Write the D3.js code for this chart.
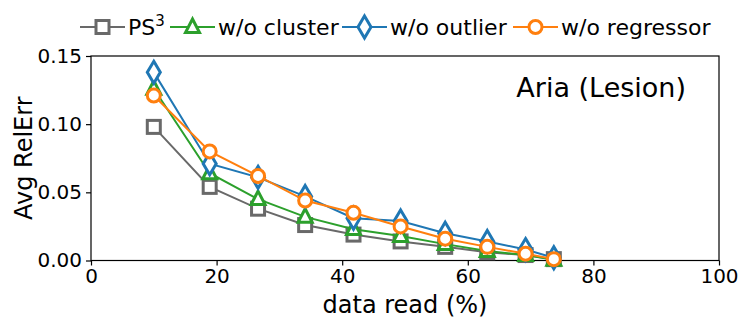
<!DOCTYPE html>
<html><head><meta charset="utf-8">
<script src="https://cdn.jsdelivr.net/npm/d3@7"></script>
<style>body{margin:0;background:#fff}svg{font-family:"DejaVu Sans",sans-serif}</style>
</head><body><svg id="c" width="747" height="327"></svg>
<script>
const xs = [10.0, 18.9, 26.6, 34.1, 41.8, 49.3, 56.4, 63.1, 69.2, 73.7];
const ps3 = [0.098, 0.054, 0.038, 0.026, 0.019, 0.014, 0.010, 0.006, 0.004, 0.001];
const woCluster = [0.126, 0.064, 0.045, 0.032, 0.023, 0.018, 0.012, 0.007, 0.004, 0.0005];
const woOutlier = [0.138, 0.071, 0.061, 0.047, 0.031, 0.029, 0.020, 0.014, 0.008, 0.002];
const woRegressor = [0.121, 0.080, 0.062, 0.044, 0.035, 0.025, 0.016, 0.010, 0.005, 0.001];
const xTicks = [0, 20, 40, 60, 80, 100];
const yTicks = [0, 0.05, 0.10, 0.15];
const seriesNames = ["PS3", "w/o cluster", "w/o outlier", "w/o regressor"];

const series = [
  {name: seriesNames[0], vals: ps3, color: "#696969", marker: "square"},
  {name: seriesNames[1], vals: woCluster, color: "#2ca02c", marker: "triangle"},
  {name: seriesNames[2], vals: woOutlier, color: "#1f77b4", marker: "diamond"},
  {name: seriesNames[3], vals: woRegressor, color: "#ff7f0e", marker: "circle"}
];

const svg = d3.select("#c");
const L = 91, R = 719, T = 56, B = 260.5;
const x = d3.scaleLinear().domain([0, 100]).range([L, R]);
const y = d3.scaleLinear().domain([0, 0.15]).range([B, T]);

function drawMarker(g, type, cx, cy, color) {
  if (type === "square") {
    g.append("rect").attr("x", cx - 6.5).attr("y", cy - 6.5).attr("width", 13).attr("height", 13)
      .attr("fill", "#fff").attr("stroke", color).attr("stroke-width", 3);
  } else if (type === "triangle") {
    const h = 13, w = 14;
    g.append("path").attr("d", `M${cx},${cy - h * 0.62} L${cx + w / 2},${cy + h * 0.42} L${cx - w / 2},${cy + h * 0.42} Z`)
      .attr("fill", "#fff").attr("stroke", color).attr("stroke-width", 3).attr("stroke-linejoin", "miter");
  } else if (type === "diamond") {
    g.append("path").attr("d", `M${cx},${cy - 11} L${cx + 6.5},${cy} L${cx},${cy + 11} L${cx - 6.5},${cy} Z`)
      .attr("fill", "#fff").attr("stroke", color).attr("stroke-width", 3);
  } else {
    g.append("circle").attr("cx", cx).attr("cy", cy).attr("r", 6.5)
      .attr("fill", "#fff").attr("stroke", color).attr("stroke-width", 3);
  }
}

// frame
svg.append("rect").attr("x", L).attr("y", T).attr("width", R - L).attr("height", B - T)
  .attr("fill", "none").attr("stroke", "#000").attr("stroke-width", 1.2);

// series
series.forEach(s => {
  const g = svg.append("g");
  const line = d3.line().x((d, i) => x(xs[i])).y(d => y(d));
  g.append("path").attr("d", line(s.vals)).attr("fill", "none").attr("stroke", s.color).attr("stroke-width", 2);
  s.vals.forEach((v, i) => drawMarker(g, s.marker, x(xs[i]), y(v), s.color));
});

// axes
const xAxis = d3.axisBottom(x).tickValues(xTicks).tickFormat(d3.format("d")).tickSize(5).tickPadding(3);
const gx = svg.append("g").attr("transform", `translate(0,${B})`).call(xAxis);
const yAxis = d3.axisLeft(y).tickValues(yTicks).tickFormat(d3.format(".2f")).tickSize(5).tickPadding(4);
const gy = svg.append("g").attr("transform", `translate(${L},0)`).call(yAxis);
[gx, gy].forEach(g => {
  g.select(".domain").remove();
  g.selectAll("line").attr("stroke", "#000").attr("stroke-width", 1.2);
  g.selectAll("text").attr("font-size", 20).attr("fill", "#000").attr("font-family", "DejaVu Sans");
});

// labels
svg.append("text").attr("x", (L + R) / 2).attr("y", 313).attr("text-anchor", "middle")
  .attr("font-size", 24).text("data read (%)");
svg.append("text").attr("transform", `translate(32,${(T + B) / 2}) rotate(-90)`).attr("text-anchor", "middle")
  .attr("font-size", 24).text("Avg RelErr");
svg.append("text").attr("x", 686).attr("y", 97).attr("text-anchor", "end")
  .attr("font-size", 27).text("Aria (Lesion)");

// legend
const legX = [80, 170, 342, 513];
const legY = 27;
series.forEach((s, i) => {
  const g = svg.append("g");
  g.append("line").attr("x1", legX[i]).attr("x2", legX[i] + 45).attr("y1", legY).attr("y2", legY)
    .attr("stroke", s.color).attr("stroke-width", 2);
  drawMarker(g, s.marker, legX[i] + 22.5, legY, s.color);
  const t = g.append("text").attr("x", legX[i] + 48).attr("y", legY + 8).attr("font-size", 22);
  if (i === 0) {
    t.append("tspan").text("PS");
    t.append("tspan").attr("dy", -9).attr("font-size", 15).text("3");
  } else {
    t.text(s.name);
  }
});
</script></body></html>
